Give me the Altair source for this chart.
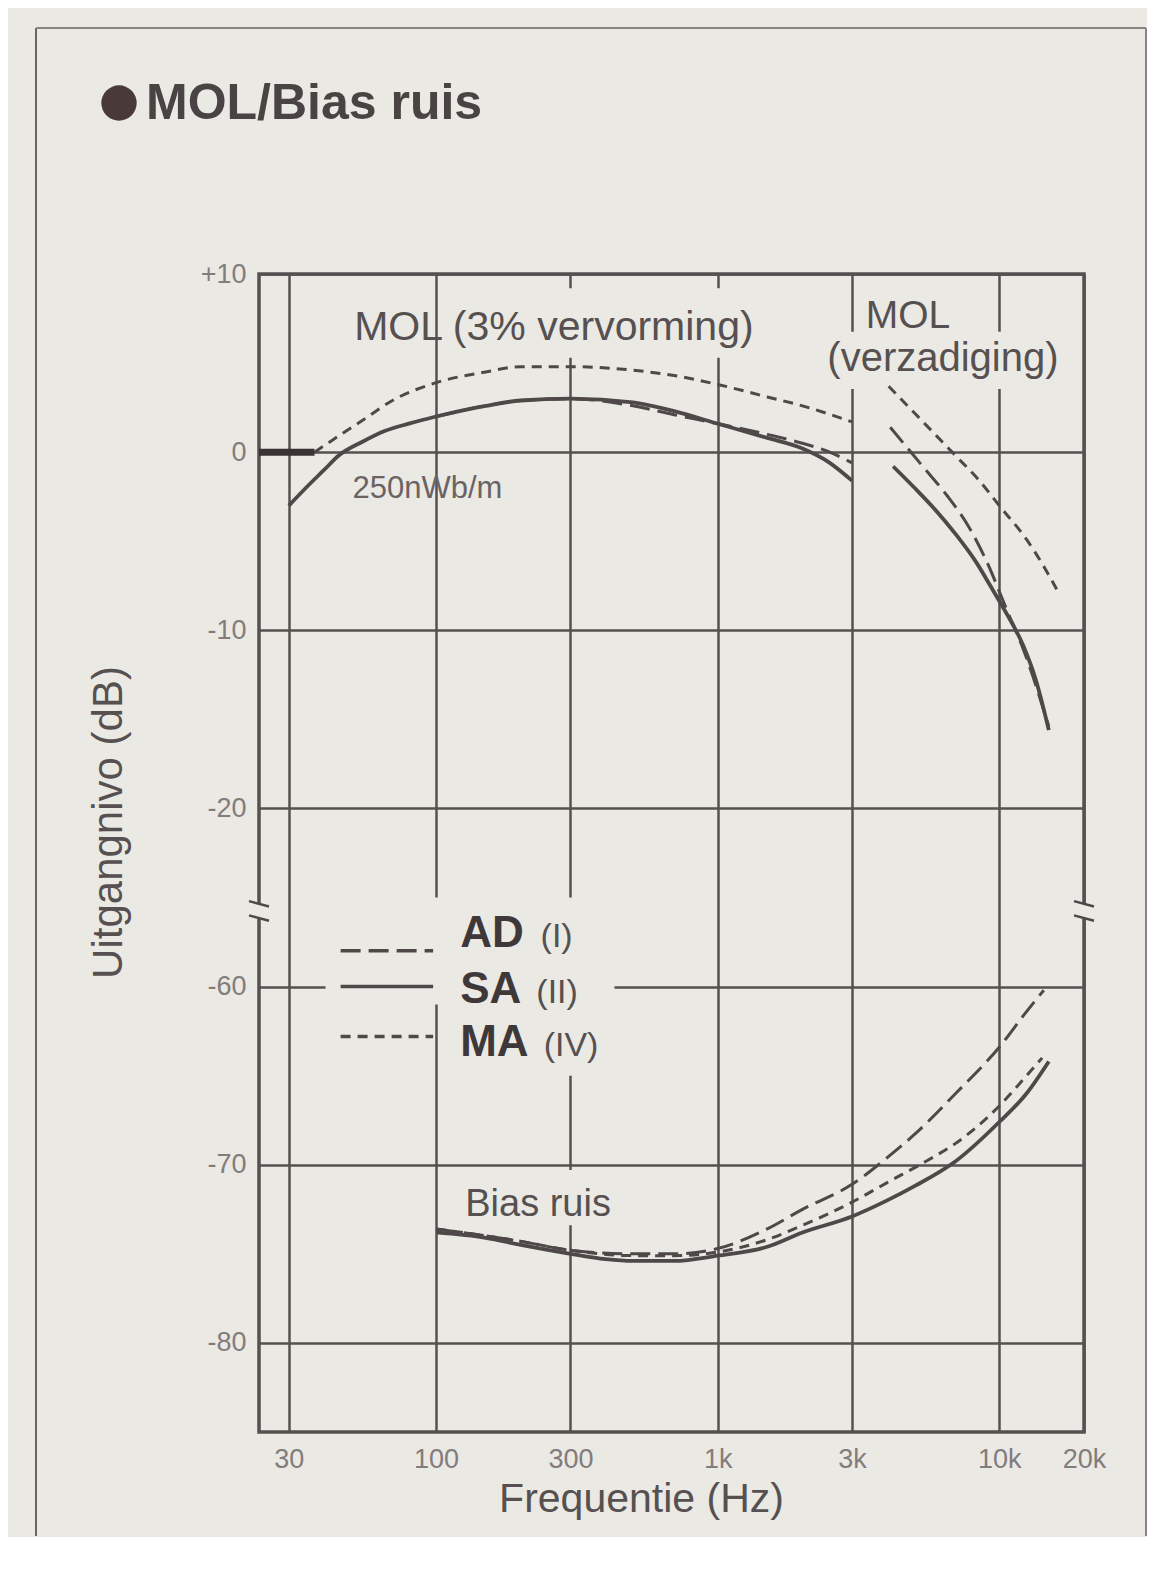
import altair as alt
import pandas as pd

# ---------------- data ----------------
# MOL (3% distortion), dB re 250 nWb/m
MA_MOL3_F = [37, 45, 55, 70, 100, 150, 200, 300, 500, 700, 1000, 1500, 2000, 3000]
MA_MOL3_DB = [0.0, 0.9, 1.8, 2.9, 3.9, 4.5, 4.8, 4.8, 4.6, 4.3, 3.8, 3.1, 2.6, 1.7]
SA_MOL3_F = [30, 35, 40, 45, 55, 66, 80, 100, 150, 200, 300, 500, 700, 1000, 1500, 2000, 2500, 3000]
SA_MOL3_DB = [-3.0, -1.9, -1.0, -0.2, 0.6, 1.2, 1.6, 2.0, 2.6, 2.9, 3.0, 2.8, 2.3, 1.6, 0.8, 0.2, -0.6, -1.6]
AD_MOL3_F = [100, 150, 200, 300, 500, 700, 1000, 1500, 2000, 2500, 3000]
AD_MOL3_DB = [2.0, 2.6, 2.9, 3.0, 2.6, 2.1, 1.6, 1.0, 0.5, 0.0, -0.6]

# MOL (saturation)
MA_SAT_F = [4050, 5000, 6000, 7000, 8500, 10000, 12500, 14500, 16000]
MA_SAT_DB = [3.7, 2.2, 0.9, -0.2, -1.6, -3.0, -4.9, -6.5, -7.7]
AD_SAT_F = [4100, 5350, 6500, 7800, 9000, 10600, 12200, 15000]
AD_SAT_DB = [1.4, -0.8, -2.4, -4.2, -6.1, -8.8, -11.1, -15.4]
SA_SAT_F = [4200, 5000, 5900, 7000, 8300, 9300, 10300, 12200, 13500, 15000]
SA_SAT_DB = [-0.8, -2.0, -3.2, -4.6, -6.2, -7.5, -8.7, -10.9, -12.8, -15.6]

# Bias noise
BIAS_SA_F = [100, 150, 200, 300, 400, 500, 700, 1000, 1500, 2000, 3000, 4000, 5000, 7000, 10000, 12500, 15000]
BIAS_SA_DB = [-73.8, -74.1, -74.5, -75.0, -75.3, -75.4, -75.4, -75.1, -74.6, -73.8, -72.9, -72.0, -71.2, -69.8, -67.6, -66.0, -64.2]
BIAS_MA_F = [100, 200, 300, 500, 700, 1000, 1500, 2000, 3000, 4000, 5500, 7000, 10000, 12500, 14200]
BIAS_MA_DB = [-73.6, -74.3, -74.8, -75.1, -75.1, -74.9, -74.2, -73.4, -72.1, -71.0, -69.8, -68.8, -66.7, -65.0, -64.0]
BIAS_AD_F = [100, 200, 300, 500, 700, 1000, 1500, 2000, 3000, 4000, 5000, 7000, 10000, 12500, 14400]
BIAS_AD_DB = [-73.6, -74.3, -74.8, -75.0, -75.0, -74.7, -73.6, -72.5, -71.1, -69.6, -68.3, -66.0, -63.4, -61.4, -60.2]

# 250 nWb/m reference marker
REF_F = [23.5, 37]
REF_DB = [0.0, 0.0]

# axes
X_TICKS = [30, 100, 300, 1000, 3000, 10000, 20000]
Y_TICKS = [10, 0, -10, -20, -30, -40, -50]          # display positions
Y_LABELS = ["+10", "0", "-10", "-20", "-60", "-70", "-80"]
BREAK_OFFSET = 30   # broken axis: -60 dB is drawn where -30 would be

# ---------------- styling ----------------
FONT = "Liberation Sans"
BG = "#eae9e4"
INK = "#4f4848"
GRID = "#565050"
LABEL = "#837c7c"
TXT = "#575050"
W, H = 825, 1158

xs = alt.Scale(type="log", domain=[23.5, 20000], nice=False)
ys = alt.Scale(domain=[-55, 10], nice=False, zero=False)

label_expr_y = "".join(f"datum.value == {v} ? '{l}' : " for v, l in zip(Y_TICKS, Y_LABELS)) + "''"
label_expr_x = "datum.value >= 1000 ? (datum.value / 1000) + 'k' : '' + datum.value"

xaxis = alt.Axis(values=X_TICKS, labelExpr=label_expr_x, title="Frequentie (Hz)",
                 grid=True, gridColor=GRID, gridWidth=2.5, gridOpacity=1,
                 domain=False, ticks=False, labelFontSize=27, labelColor=LABEL,
                 labelFont=FONT, labelPadding=14, labelOverlap=False, labelFlush=False,
                 titleFont=FONT, titleFontSize=41, titleFontWeight="normal", titleColor=TXT,
                 titleX=382, titleY=67, titleBaseline="middle")
yaxis = alt.Axis(values=Y_TICKS, labelExpr=label_expr_y, title="Uitgangnivo (dB)",
                 grid=True, gridColor=GRID, gridWidth=2.5, gridOpacity=1,
                 domain=False, ticks=False, labelFontSize=27, labelColor=LABEL,
                 labelFont=FONT, labelPadding=13, labelOverlap=False, labelFlush=False,
                 titleFont=FONT, titleFontSize=42, titleFontWeight="normal", titleColor=TXT,
                 titleX=-151, titleY=548, titleBaseline="middle")

X = alt.X("f:Q", scale=xs, axis=xaxis)
Y = alt.Y("y:Q", scale=ys, axis=yaxis)


def sdf(f, db, seg, offset=0):
    return pd.DataFrame({"f": f, "y": [v + offset for v in db], "seg": seg})


ma_df = pd.concat([sdf(MA_MOL3_F, MA_MOL3_DB, "mol3"), sdf(MA_SAT_F, MA_SAT_DB, "sat"),
                   sdf(BIAS_MA_F, BIAS_MA_DB, "bias", BREAK_OFFSET)])
ad_df = pd.concat([sdf(AD_MOL3_F, AD_MOL3_DB, "mol3"), sdf(AD_SAT_F, AD_SAT_DB, "sat"),
                   sdf(BIAS_AD_F, BIAS_AD_DB, "bias", BREAK_OFFSET)])
sa_df = pd.concat([sdf(SA_MOL3_F, SA_MOL3_DB, "mol3"), sdf(SA_SAT_F, SA_SAT_DB, "sat"),
                   sdf(BIAS_SA_F, BIAS_SA_DB, "bias", BREAK_OFFSET)])
ref_df = sdf(REF_F, REF_DB, "ref")

DASH_AD = [20, 8]
DASH_MA = [10, 7]


def line_layer(df, width, dash=None):
    kw = dict(color=INK, strokeWidth=width, interpolate="monotone", strokeCap="butt")
    if dash:
        kw["strokeDash"] = dash
    return alt.Chart(df).mark_line(**kw).encode(x=X, y=Y, detail="seg:N", order="f:Q")


# background patches where the printed grid is interrupted by text
bg_df = pd.DataFrame({
    "f": [150, 2323, 120, 40.5, 105],
    "f2": [1300, 17300, 447, 430, 430],
    "y": [5.3, 3.55, -40.3, -25.0, -31.0],
    "y2": [9.2, 6.76, -43.4, -31.0, -35.0],
})
bg_layer = alt.Chart(bg_df).mark_rect(color=BG).encode(x=X, x2="f2:Q", y=Y, y2="y2:Q")


def text_layer(rows, size, weight="normal", color=TXT, align="left"):
    df = pd.DataFrame(rows, columns=["f", "y", "text"])
    return alt.Chart(df).mark_text(font=FONT, fontSize=size, fontWeight=weight, color=color,
                                   align=align, baseline="alphabetic").encode(x=X, y=Y, text="text:N")


notes_c = text_layer([(262, 6.27, "MOL (3% vervorming)")], 41, align="center")
notes_l = text_layer([(3355, 6.95, "MOL")], 39)
notes_v = text_layer([(6310, 4.57, "(verzadiging)")], 40, align="center")
note_ref = text_layer([(50.5, -2.6, "250nWb/m")], 31, color="#6a6363")
note_bias = text_layer([(126.9, -42.9, "Bias ruis")], 38)

leg_bold = text_layer([(121.8, -27.8, "AD"), (121.8, -30.9, "SA"), (121.8, -33.9, "MA")], 44,
                      weight="bold", color="#3f3838")
leg_norm = text_layer([(235, -27.8, "(I)"), (227, -30.9, "(II)"), (241, -33.9, "(IV)")], 34,
                      color=TXT)

leg_lines = []
for yv, dash, w in [(-27.99, DASH_AD, 3.5), (-30.0, None, 3.5), (-32.8, DASH_MA, 3.5)]:
    kw = dict(color=INK, strokeWidth=w, strokeCap="butt")
    if dash:
        kw["strokeDash"] = dash
    leg_lines.append(alt.Chart(pd.DataFrame({"f": [45.8], "f2": [97.6], "y": [yv]}))
                     .mark_rule(**kw).encode(x=X, x2="f2:Q", y=Y))

ref_layer = alt.Chart(ref_df).mark_line(color="#3a3333", strokeWidth=7).encode(x=X, y=Y, order="f:Q")

# axis-break symbols (left axis and right frame)
brk_layers = []
for px in (0, W):
    gap = pd.DataFrame({"y": [-25.35], "y2": [-26.2]})
    brk_layers.append(alt.Chart(gap).mark_rect(color=BG).encode(
        x=alt.value(px - 10), x2=alt.value(px + 10), y=Y, y2="y2:Q"))
    for a, b in [(-25.2, -25.5), (-26.0, -26.3)]:
        brk_layers.append(alt.Chart(pd.DataFrame({"y": [a], "y2": [b]})).mark_rule(
            color=INK, strokeWidth=2.5).encode(x=alt.value(px - 10), x2=alt.value(px + 10), y=Y, y2="y2:Q"))

# page decoration: frame, title
one = pd.DataFrame({"k": [0]})
frame_l = alt.Chart(one).mark_rule(color="#6b6464", strokeWidth=2).encode(
    x=alt.value(-223), y=alt.value(-246), y2=alt.value(1262))
frame_r = alt.Chart(one).mark_rule(color="#8a8484", strokeWidth=2).encode(
    x=alt.value(887), y=alt.value(-246), y2=alt.value(1262))
frame_t = alt.Chart(one).mark_rule(color="#8a8484", strokeWidth=2).encode(
    x=alt.value(-223), x2=alt.value(887), y=alt.value(-246))
bullet = alt.Chart(one).mark_circle(size=1250, color="#4a3939", opacity=1).encode(
    x=alt.value(-140), y=alt.value(-171))
title = alt.Chart(one).mark_text(text="MOL/Bias ruis", font=FONT, fontSize=50, fontWeight="bold",
                                 color="#4a4343", align="left", baseline="alphabetic").encode(
    x=alt.value(-113), y=alt.value(-155))

layers = [bg_layer, ref_layer,
          line_layer(sa_df, 3.8), line_layer(ad_df, 3.0, DASH_AD), line_layer(ma_df, 3.0, DASH_MA),
          notes_c, notes_l, notes_v, note_ref, note_bias, leg_bold, leg_norm] + leg_lines + brk_layers + \
         [frame_l, frame_r, frame_t, bullet, title]

chart = alt.layer(*layers).properties(
    width=W, height=H,
    padding={"left": 27, "top": 19, "right": 0, "bottom": 0},
    background=BG,
).configure_view(stroke=GRID, strokeWidth=3.5)

chart.save("out.html", embed_options={"renderer": "svg", "actions": False})
